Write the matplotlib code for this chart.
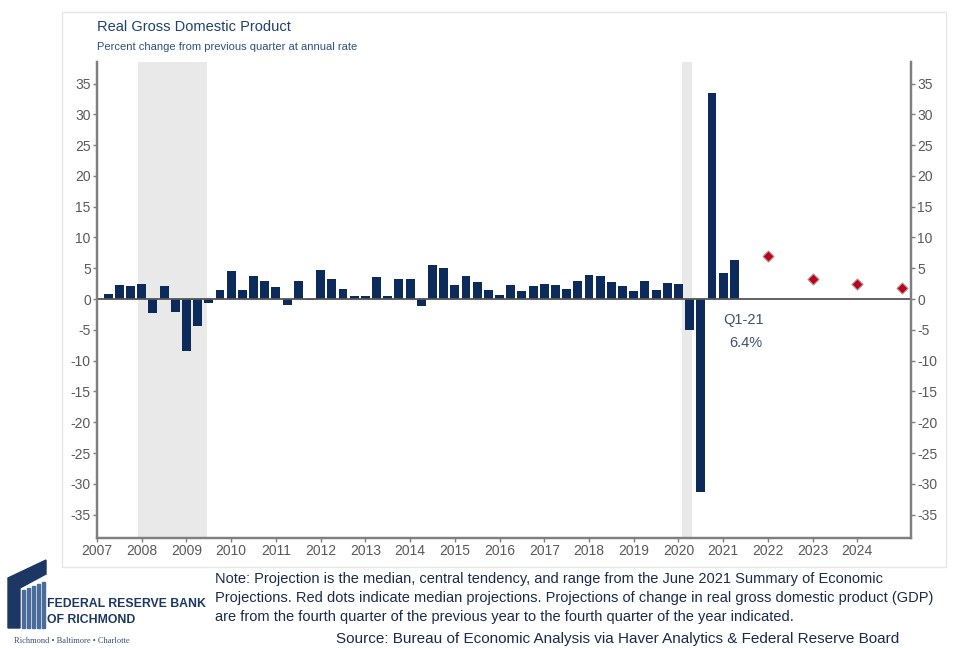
import matplotlib
matplotlib.use("Agg")
import matplotlib.pyplot as plt
from matplotlib.patches import Polygon, Rectangle

plt.rcParams['font.family'] = ['Liberation Sans', 'DejaVu Sans']
plt.rcParams['axes.unicode_minus'] = False

# quarterly real GDP growth, % change at annual rate, 2007Q1 .. 2021Q1
first_year = 2007
gdp = [0.9, 2.3, 2.2, 2.5,
       -2.3, 2.1, -2.1, -8.4,
       -4.4, -0.6, 1.5, 4.5,
       1.5, 3.7, 3.0, 2.0,
       -1.0, 2.9, -0.1, 4.7,
       3.2, 1.7, 0.5, 0.5,
       3.6, 0.5, 3.2, 3.2,
       -1.1, 5.5, 5.0, 2.3,
       3.8, 2.7, 1.5, 0.6,
       2.3, 1.3, 2.2, 2.5,
       2.3, 1.7, 2.9, 3.9,
       3.8, 2.7, 2.1, 1.3,
       2.9, 1.5, 2.6, 2.4,
       -5.0, -31.4, 33.4, 4.3,
       6.4]

# June 2021 SEP medians (Q4/Q4), plotted at year end
proj_years = [2022, 2023, 2024, 2025]
proj_median = [7.0, 3.3, 2.4, 1.8]

recessions = [(2007.917, 2009.45), (2020.083, 2020.30)]
year_ticks = list(range(2007, 2025))
y_ticks = list(range(-35, 36, 5))

navy = "#0d2b5a"
gray = "#7f7f7f"
txt = "#595959"

fig = plt.figure(figsize=(9.66, 6.48), dpi=100)

# light outer frame
fig.patches.append(Rectangle((62 / 966, 1 - 567 / 648), (946 - 62) / 966, (567 - 12) / 648,
                             transform=fig.transFigure, fill=False, edgecolor="#e6e6e6", lw=1))

ax = fig.add_axes([97 / 966, 1 - 538 / 648, (911 - 97) / 966, (538 - 62) / 648])

for a, b in recessions:
    ax.axvspan(a, b, color="#e9e9e9", lw=0, zorder=0)

xs = [first_year + 0.25 * (i + 1) for i in range(len(gdp))]
ax.bar(xs, gdp, width=0.2, color=navy, zorder=2)
ax.axhline(0, color="#555555", lw=1.3, zorder=3)

ax.scatter(proj_years, proj_median, marker="D", s=32, color="#c00018",
           edgecolor="#b09a9a", linewidth=0.8, zorder=4)

ax.annotate("Q1-21", (2021.45, -3.4), ha="center", va="center", color="#3d5170", fontsize=10.5)
ax.annotate("6.4%", (2021.5, -7.1), ha="center", va="center", color="#3d5170", fontsize=10.5)

ax.set_xlim(2007, 2025.2)
ax.set_ylim(-38.8, 38.5)
ax.set_xticks(year_ticks)
ax.set_xticklabels([str(y) for y in year_ticks])
ax.set_yticks(y_ticks)

ax2 = ax.twinx()
ax2.set_ylim(ax.get_ylim())
ax2.set_yticks(y_ticks)

for a in (ax, ax2):
    a.spines["top"].set_visible(False)
    for s in ("left", "right", "bottom"):
        a.spines[s].set_color(gray)
        a.spines[s].set_linewidth(1.6)
    a.tick_params(colors=gray, labelcolor=txt, labelsize=10, length=3, width=1, pad=1.5)

# titles
fig.text(97 / 966, 1 - 27 / 648, "Real Gross Domestic Product", color="#1f3f73",
         fontsize=10.5, va="center", ha="left")
fig.text(97 / 966, 1 - 47 / 648, "Percent change from previous quarter at annual rate",
         color="#2e4f80", fontsize=8, va="center", ha="left")

# footer notes
note = ("Note: Projection is the median, central tendency, and range from the June 2021 Summary of Economic\n"
        "Projections. Red dots indicate median projections. Projections of change in real gross domestic product (GDP)\n"
        "are from the fourth quarter of the previous year to the fourth quarter of the year indicated.")
fig.text(215 / 966, 1 - 572 / 648, note, color="#1b2a4a", fontsize=10.5, va="top", ha="left",
         linespacing=1.45)
fig.text(336 / 966, 1 - 639 / 648,
         "Source: Bureau of Economic Analysis via Haver Analytics & Federal Reserve Board",
         color="#1b2a4a", fontsize=11, va="center", ha="left")

# simplified logo
lx = fig.add_axes([0, 0, 1, 1], facecolor="none")
lx.set_xlim(0, 966)
lx.set_ylim(648, 0)
lx.axis("off")
lx.add_patch(Polygon([(8, 628), (8, 578), (46, 560), (46, 574), (20, 588), (20, 628)],
                     closed=True, color="#1c3764"))
for i in range(5):
    x0 = 22 + i * 5
    lx.add_patch(Rectangle((x0, 590 - i * 2), 3, 38 + i * 2, color="#4a6c9a"))
lx.text(47, 604, "FEDERAL RESERVE BANK", color="#1c3764", fontsize=8.8, fontweight="bold",
        va="center", ha="left")
lx.text(47, 620, "OF RICHMOND", color="#1c3764", fontsize=8.8, fontweight="bold",
        va="center", ha="left")
lx.text(14, 641, "Richmond \u2022 Baltimore \u2022 Charlotte", color="#3a4e70", fontsize=6,
        va="center", ha="left", family=['Liberation Serif', 'DejaVu Serif'])

fig.savefig("out.png", dpi=100)
